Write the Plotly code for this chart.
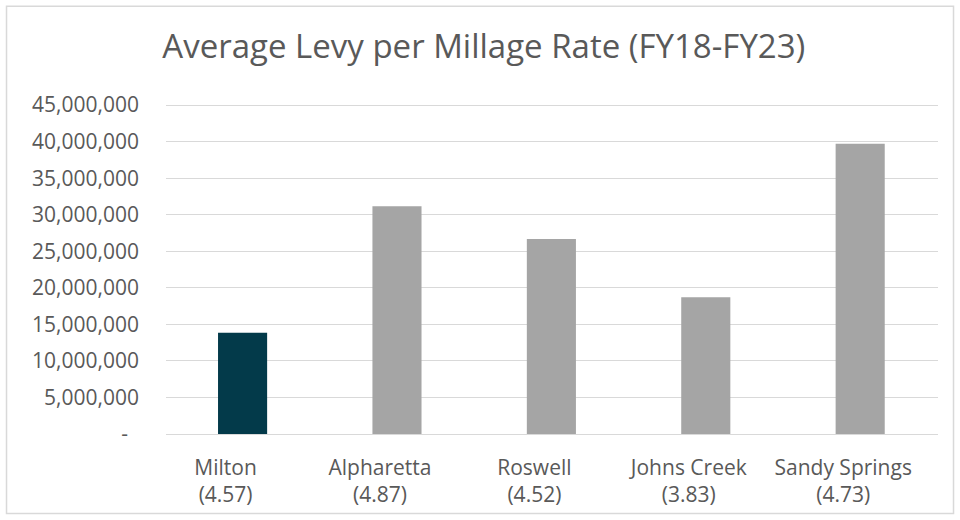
import plotly.graph_objects as go

# ── data ─────────────────────────────────────────────────────────────────────
cities = ["Milton", "Alpharetta", "Roswell", "Johns Creek", "Sandy Springs"]
millage = ["4.57", "4.87", "4.52", "3.83", "4.73"]
avg_levy = [13_840_000, 31_160_000, 26_690_000, 18_720_000, 39_710_000]

y_ticks = [0, 5_000_000, 10_000_000, 15_000_000, 20_000_000,
           25_000_000, 30_000_000, 35_000_000, 40_000_000, 45_000_000]
y_tick_text = ["-\u00a0\u00a0"] + [f"{v:,}" for v in y_ticks[1:]]

TEXT = "#595959"
GRID = "#D9D9D9"
FONT = "Open Sans"

labels = [f"{c}<br>({m})" for c, m in zip(cities, millage)]
colors = ["#033A4A" if c == "Milton" else "#A5A5A5" for c in cities]

fig = go.Figure()
fig.add_trace(go.Bar(
    x=labels,
    y=avg_levy,
    marker_color=colors,
    marker_line_width=0,
    width=0.318,
    offset=-0.049,
    hoverinfo="x+y",
))

fig.update_layout(
    title=dict(
        text="Average Levy per Millage Rate (FY18-FY23)",
        x=0.504, xref="container", xanchor="center",
        y=0.91, yref="container", yanchor="middle",
        font=dict(family=FONT, size=33, color=TEXT),
    ),
    width=960, height=520,
    margin=dict(l=166, r=22, t=104, b=86),
    plot_bgcolor="white",
    paper_bgcolor="white",
    showlegend=False,
    font=dict(family=FONT, size=21, color=TEXT),
    xaxis=dict(
        range=[-0.386, 4.614],
        showgrid=False, showline=False, ticks="",
        tickfont=dict(family=FONT, size=21, color=TEXT),
        ticklabelstandoff=19,
    ),
    yaxis=dict(
        # tiny headroom so the 45M gridline is still drawn
        range=[0, 45_150_000],
        tickvals=y_ticks, ticktext=y_tick_text,
        showgrid=True, gridcolor=GRID, gridwidth=1,
        zeroline=True, zerolinecolor=GRID, zerolinewidth=1,
        showline=False, ticks="",
        tickfont=dict(family=FONT, size=21, color=TEXT),
        ticklabelstandoff=26,
    ),
    # chart frame like the Excel chart border
    shapes=[dict(
        type="rect", xref="paper", yref="paper",
        x0=-0.2066, x1=1.0201, y0=-0.2409, y1=1.2964,
        line=dict(color=GRID, width=1.5), fillcolor="rgba(0,0,0,0)",
        layer="below",
    )],
)

# the page body has a default 8px margin; drop it so the chart sits at 0,0
fig.write_html(
    "out.html",
    config={"displayModeBar": False},
    post_script="document.body.style.margin='0';",
)
